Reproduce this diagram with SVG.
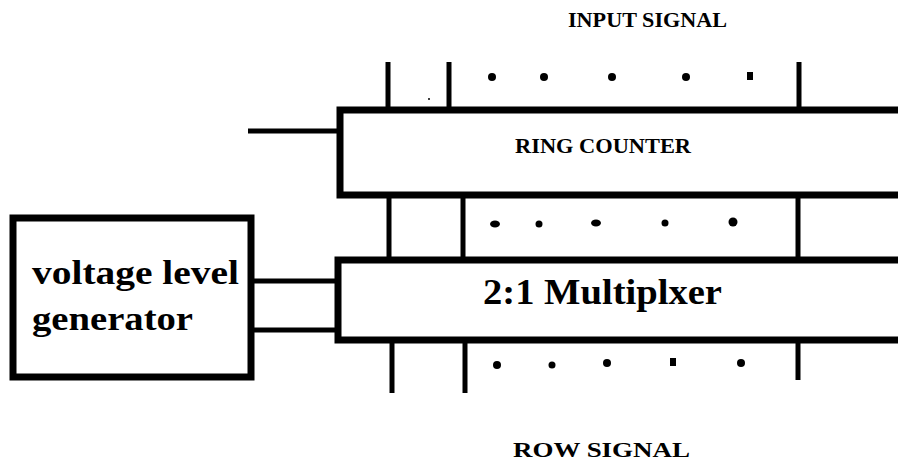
<svg xmlns="http://www.w3.org/2000/svg" width="898" height="467" viewBox="0 0 898 467">
<style>
.box{fill:#fff;stroke:#000;stroke-width:7}
.ln{stroke:#000;stroke-width:5;fill:none}
.t{font-family:"Liberation Serif","Times New Roman",serif;font-weight:bold;fill:#000}
.dot{fill:#000}
</style>
<rect width="898" height="467" fill="#fff"/>
<g id="connectors">
  <line class="ln" x1="388" y1="62" x2="388" y2="112"/>
  <line class="ln" x1="449" y1="62" x2="449" y2="112"/>
  <line class="ln" x1="799" y1="62" x2="799" y2="112"/>
  <line class="ln" x1="248" y1="131" x2="340" y2="131"/>
  <line class="ln" x1="389" y1="195" x2="389" y2="260"/>
  <line class="ln" x1="463" y1="195" x2="463" y2="260"/>
  <line class="ln" x1="798" y1="195" x2="798" y2="260"/>
  <line class="ln" x1="252" y1="281" x2="338" y2="281"/>
  <line class="ln" x1="252" y1="330" x2="338" y2="330"/>
  <line class="ln" x1="392" y1="340" x2="392" y2="393"/>
  <line class="ln" x1="465" y1="340" x2="465" y2="393"/>
  <line class="ln" x1="798" y1="340" x2="798" y2="380"/>
</g>
<g id="input-signal">
  <text class="t" x="568" y="27" font-size="21" textLength="159" lengthAdjust="spacingAndGlyphs">INPUT SIGNAL</text>
  <circle class="dot" cx="492" cy="77" r="4"/>
  <circle class="dot" cx="544" cy="77" r="4"/>
  <circle class="dot" cx="612" cy="77" r="4"/>
  <circle class="dot" cx="686" cy="77" r="4"/>
  <rect class="dot" x="747" y="72" width="6" height="8"/>
  <circle class="dot" cx="429" cy="99" r="1"/>
</g>
<g id="ring-counter">
  <rect class="box" x="340" y="110" width="600" height="85"/>
  <text class="t" x="515" y="153" font-size="20" textLength="176" lengthAdjust="spacingAndGlyphs">RING COUNTER</text>
</g>
<g id="mid-dots">
  <ellipse class="dot" cx="495" cy="224" rx="5" ry="3.5"/>
  <circle class="dot" cx="539" cy="224" r="3.5"/>
  <ellipse class="dot" cx="596" cy="223" rx="5" ry="3.5"/>
  <circle class="dot" cx="665" cy="223" r="3.5"/>
  <circle class="dot" cx="733" cy="222" r="4.5"/>
</g>
<g id="multiplexer">
  <rect class="box" x="338" y="260" width="600" height="80"/>
  <text class="t" x="483" y="304" font-size="35" textLength="239" lengthAdjust="spacingAndGlyphs">2:1 Multiplxer</text>
</g>
<g id="voltage-level-generator">
  <rect class="box" x="13" y="218" width="238" height="159"/>
  <text class="t" x="32" y="284" font-size="33" textLength="207" lengthAdjust="spacingAndGlyphs">voltage level</text>
  <text class="t" x="32" y="330" font-size="33" textLength="161" lengthAdjust="spacingAndGlyphs">generator</text>
</g>
<g id="row-signal">
  <circle class="dot" cx="497" cy="365" r="4"/>
  <circle class="dot" cx="552" cy="365" r="3.5"/>
  <circle class="dot" cx="607" cy="363" r="4"/>
  <rect class="dot" x="670" y="358" width="6" height="8"/>
  <circle class="dot" cx="741" cy="363" r="4"/>
  <text class="t" x="513" y="457" font-size="21" textLength="177" lengthAdjust="spacingAndGlyphs">ROW SIGNAL</text>
</g>
</svg>
